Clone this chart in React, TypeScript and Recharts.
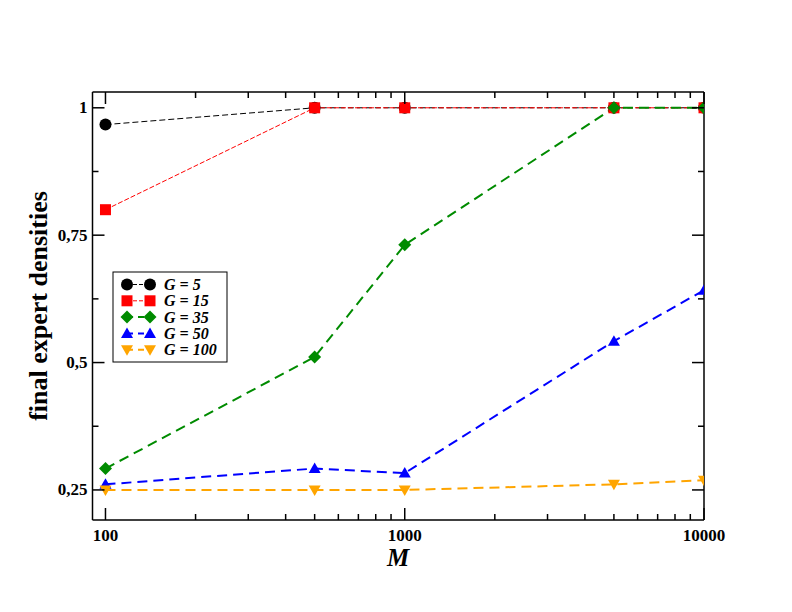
import React from "react";
import { LineChart, Line, XAxis, YAxis } from "recharts";

// values
const mValues = [100, 500, 1000, 5000, 10000];
const g5 = [0.967, 1, 1, 1, 1];
const g15 = [0.8, 1, 1, 1, 1];
const g35 = [0.292, 0.511, 0.731, 1, 1];
const g50 = [0.261, 0.292, 0.283, 0.542, 0.642];
const g100 = [0.25, 0.25, 0.25, 0.261, 0.269];

const xTicks = [
  100, 200, 300, 400, 500, 600, 700, 800, 900,
  1000, 2000, 3000, 4000, 5000, 6000, 7000, 8000, 9000, 10000,
];
const xMajor = [100, 1000, 10000];
const yTicks = [0.25, 0.375, 0.5, 0.625, 0.75, 0.875, 1];
const yMajor = [0.25, 0.5, 0.75, 1];
const yLabels: Record<string, string> = {
  "0.25": "0,25",
  "0.5": "0,5",
  "0.75": "0,75",
  "1": "1",
};

const series = [
  { key: "g5", name: "G = 5", values: g5, color: "#000000", shape: "circle", width: 1, dash: "6 3" },
  { key: "g15", name: "G = 15", values: g15, color: "#ff0000", shape: "square", width: 1, dash: "5 2" },
  { key: "g35", name: "G = 35", values: g35, color: "#008b00", shape: "diamond", width: 2, dash: "10 6" },
  { key: "g50", name: "G = 50", values: g50, color: "#0000ff", shape: "triangleUp", width: 2, dash: "10 6" },
  { key: "g100", name: "G = 100", values: g100, color: "#ffa500", shape: "triangleDown", width: 2, dash: "10 6" },
];

const data = mValues.map((m, i) => {
  const row: Record<string, number> = { M: m };
  series.forEach((s) => {
    row[s.key] = s.values[i];
  });
  return row;
});

const FONT = "'Liberation Serif', 'Times New Roman', serif";

function Marker({ shape, color, cx, cy }: { shape: string; color: string; cx: number; cy: number }) {
  switch (shape) {
    case "circle":
      return <circle cx={cx} cy={cy} r={6} fill={color} />;
    case "square":
      return <rect x={cx - 5.5} y={cy - 5.5} width={11} height={11} fill={color} />;
    case "diamond":
      return (
        <path
          d={`M${cx},${cy - 6.5} L${cx + 6.5},${cy} L${cx},${cy + 6.5} L${cx - 6.5},${cy} Z`}
          fill={color}
        />
      );
    case "triangleUp":
      return (
        <path d={`M${cx},${cy - 6} L${cx + 6},${cy + 4.5} L${cx - 6},${cy + 4.5} Z`} fill={color} />
      );
    default:
      return (
        <path d={`M${cx},${cy + 6} L${cx + 6},${cy - 4.5} L${cx - 6},${cy - 4.5} Z`} fill={color} />
      );
  }
}

const makeDot = (shape: string, color: string) => (props: any) => {
  const { cx, cy, index } = props;
  return (
    <g key={`${shape}-${index}`}>
      <Marker shape={shape} color={color} cx={cx} cy={cy} />
    </g>
  );
};

function BottomTick(props: any) {
  const { x, y, payload } = props;
  const major = xMajor.includes(payload.value);
  return (
    <g>
      <line x1={x} y1={y} x2={x} y2={y - (major ? 12 : 6)} stroke="#000" strokeWidth={1.5} />
      {major && (
        <text x={x} y={y + 21} textAnchor="middle" fontFamily={FONT} fontWeight="bold" fontSize={17} fill="#000">
          {payload.value}
        </text>
      )}
    </g>
  );
}

function TopTick(props: any) {
  const { x, y, payload } = props;
  const major = xMajor.includes(payload.value);
  return <line x1={x} y1={y} x2={x} y2={y + (major ? 12 : 6)} stroke="#000" strokeWidth={1.5} />;
}

function LeftTick(props: any) {
  const { x, y, payload } = props;
  const major = yMajor.includes(payload.value);
  return (
    <g>
      <line x1={x} y1={y} x2={x + (major ? 12 : 6)} y2={y} stroke="#000" strokeWidth={1.5} />
      {major && (
        <text x={x - 5} y={y + 5.5} textAnchor="end" fontFamily={FONT} fontWeight="bold" fontSize={17} fill="#000">
          {yLabels[String(payload.value)]}
        </text>
      )}
    </g>
  );
}

function RightTick(props: any) {
  const { x, y, payload } = props;
  const major = yMajor.includes(payload.value);
  return <line x1={x} y1={y} x2={x - (major ? 12 : 6)} y2={y} stroke="#000" strokeWidth={1.5} />;
}

function LegendBox() {
  return (
    <svg
      width={116}
      height={92}
      style={{ position: "absolute", left: 112, top: 271 }}
    >
      <rect x={1} y={1} width={114} height={90} fill="#fff" stroke="#000" strokeWidth={1} />
      {series.map((s, i) => {
        const cy = 13.5 + i * 16.3;
        return (
          <g key={s.key}>
            <line x1={15} y1={cy} x2={38} y2={cy} stroke={s.color} strokeWidth={s.width} strokeDasharray={s.width > 1 ? "6 5" : "4 2"} />
            <Marker shape={s.shape} color={s.color} cx={15} cy={cy} />
            <Marker shape={s.shape} color={s.color} cx={38} cy={cy} />
            <text
              x={52}
              y={cy + 5.5}
              fontFamily={FONT}
              fontStyle="italic"
              fontWeight="bold"
              fontSize={16}
              fill="#000"
            >
              {s.name}
            </text>
          </g>
        );
      })}
    </svg>
  );
}

const axisLine = { stroke: "#000", strokeWidth: 1.5 };

export default function App() {
  return (
    <div style={{ position: "absolute", left: 0, top: 0, width: 792, height: 612, background: "#fff" }}>
      <LineChart
        width={792}
        height={612}
        data={data}
        margin={{ top: 91, right: 87, bottom: 91, left: 91.5 }}
      >
        <XAxis
          dataKey="M"
          type="number"
          scale="log"
          domain={[90.5, 10000]}
          allowDataOverflow
          ticks={xTicks}
          interval={0}
          height={1}
          tickSize={0}
          tickMargin={0}
          tickLine={false}
          axisLine={axisLine}
          tick={<BottomTick />}
        />
        <XAxis
          xAxisId="top"
          orientation="top"
          dataKey="M"
          type="number"
          scale="log"
          domain={[90.5, 10000]}
          allowDataOverflow
          ticks={xTicks}
          interval={0}
          height={1}
          tickSize={0}
          tickMargin={0}
          tickLine={false}
          axisLine={axisLine}
          tick={<TopTick />}
        />
        <YAxis
          type="number"
          domain={[0.191, 1.031]}
          allowDataOverflow
          ticks={yTicks}
          interval={0}
          width={1}
          tickSize={0}
          tickMargin={0}
          tickLine={false}
          axisLine={axisLine}
          tick={<LeftTick />}
        />
        <YAxis
          yAxisId="right"
          orientation="right"
          type="number"
          domain={[0.191, 1.031]}
          allowDataOverflow
          ticks={yTicks}
          interval={0}
          width={1}
          tickSize={0}
          tickMargin={0}
          tickLine={false}
          axisLine={axisLine}
          tick={<RightTick />}
        />
        {series.map((s) => (
          <Line
            key={s.key}
            type="linear"
            dataKey={s.key}
            name={s.name}
            stroke={s.color}
            strokeWidth={s.width}
            strokeDasharray={s.dash}
            dot={makeDot(s.shape, s.color)}
            activeDot={false}
            isAnimationActive={false}
          />
        ))}
      </LineChart>
      <svg width={792} height={612} style={{ position: "absolute", left: 0, top: 0, pointerEvents: "none" }}>
        <text
          x={0}
          y={0}
          transform="translate(38,306) rotate(-90)"
          textAnchor="middle"
          dominantBaseline="central"
          fontFamily={FONT}
          fontWeight="bold"
          fontSize={26}
          fill="#000"
        >
          final expert densities
        </text>
        <text
          x={398}
          y={566}
          textAnchor="middle"
          fontFamily={FONT}
          fontWeight="bold"
          fontStyle="italic"
          fontSize={25}
          fill="#000"
        >
          M
        </text>
      </svg>
      <LegendBox />
    </div>
  );
}
